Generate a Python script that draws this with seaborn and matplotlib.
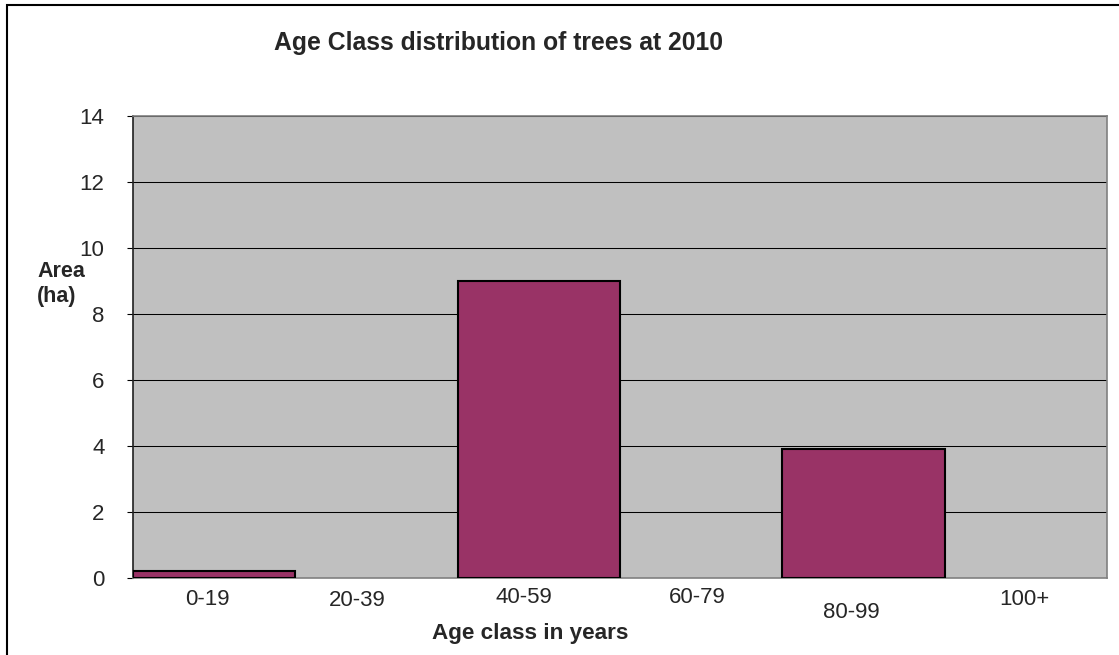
import matplotlib
matplotlib.use('Agg')
import matplotlib.pyplot as plt
import seaborn as sns
import pandas as pd
from matplotlib.transforms import ScaledTranslation
from matplotlib.patches import Rectangle

categories = ['0-19', '20-39', '40-59', '60-79', '80-99', '100+']
area_ha = [0.2, 0.0, 9.0, 0.0, 3.92, 0.0]
y_ticks = [0, 2, 4, 6, 8, 10, 12, 14]

sns.set_theme(style='white')
plt.rcParams['font.family'] = ['Liberation Sans', 'DejaVu Sans']

W, H = 1119, 655
fig = plt.figure(figsize=(W / 100, H / 100), dpi=100)
fig.patch.set_facecolor('white')
ax = fig.add_axes([133 / W, 77 / H, 974 / W, 462 / H])

df = pd.DataFrame({'age': categories, 'area': area_ha})
sns.barplot(data=df, x='age', y='area', color='#993366', saturation=1,
            width=1.0, edgecolor='black', linewidth=1.5, ax=ax, zorder=3)
for p in ax.patches:
    if p.get_height() == 0:
        p.set_linewidth(0)

ax.set_facecolor('#C0C0C0')
ax.set_xlim(-0.5, len(categories) - 0.5)
ax.set_ylim(0, 14)
ax.set_yticks(y_ticks)
ax.set_yticklabels([str(v) for v in y_ticks])
ax.yaxis.grid(True, color='black', linewidth=0.75, zorder=1)
ax.set_axisbelow(True)
ax.set_xlabel('')
ax.set_ylabel('')

for side, col in [('left', '#202020'), ('top', '#808080'), ('right', '#808080'), ('bottom', '#808080')]:
    ax.spines[side].set_visible(True)
    ax.spines[side].set_color(col)
    ax.spines[side].set_linewidth(1.2)

ax.tick_params(axis='y', direction='out', length=4.5, width=0.8, color='black',
               labelsize=16, pad=16, left=True)
ax.tick_params(axis='x', length=0, labelsize=16, pad=15.5)

# Excel-like staggered label placement (pixel offsets)
dx = [-7, -19, -15, -4, -12, -1]
dy = [0, -1, 2, 2, -13, 0]
for lab, ox, oy in zip(ax.get_xticklabels(), dx, dy):
    lab.set_va('center')
    lab.set_transform(lab.get_transform() + ScaledTranslation(ox / 100, oy / 100, fig.dpi_scale_trans))

fig.text(499 / W, 1 - 43 / H, 'Age Class distribution of trees at 2010',
         ha='center', va='center', fontsize=17.8, fontweight='bold')
fig.text(530 / W, 1 - 634 / H, 'Age class in years',
         ha='center', va='center', fontsize=16.2, fontweight='bold')
fig.text(37 / W, 1 - 284 / H, 'Area\n(ha)', ha='left', va='center',
         fontsize=15.5, fontweight='bold', linespacing=1.25)

fig.patches.append(Rectangle((7 / W, -0.1), 1.2, (H - 5) / H + 0.1,
                             transform=fig.transFigure, fill=False,
                             edgecolor='black', linewidth=1.5))

fig.savefig('out.png', dpi=100)
